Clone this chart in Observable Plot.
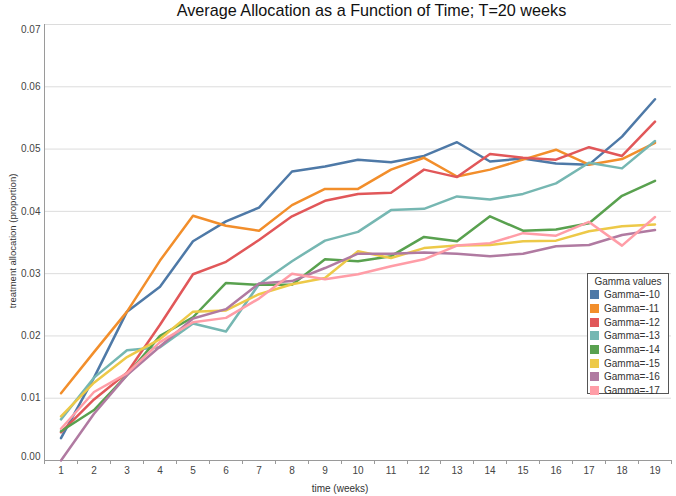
<!DOCTYPE html>
<html><head><meta charset="utf-8">
<script src="https://cdn.jsdelivr.net/npm/d3@7"></script>
<script src="https://cdn.jsdelivr.net/npm/@observablehq/plot@0.6"></script>
<style>
body{margin:0;background:#fff;font-family:"Liberation Sans",Arial,sans-serif;}
#wrap{position:relative;width:676px;height:496px;overflow:hidden;}
#title{position:absolute;left:0;width:743px;top:1px;text-align:center;font-size:16.2px;color:#111;white-space:nowrap;}
#ylab{position:absolute;left:12px;top:241px;font-size:9.5px;color:#333;white-space:nowrap;transform:translate(-50%,-50%) rotate(-90deg);}
#xlab{position:absolute;left:340px;top:483px;font-size:10px;color:#333;white-space:nowrap;transform:translateX(-50%);}
#legend{position:absolute;left:587px;top:273px;width:80px;height:119px;border:1.5px solid #555;background:#fff;font-size:10px;color:#333;}
#legend .t{text-align:center;margin-top:1px;height:13px;line-height:13px;}
#legend .r{height:13.7px;display:flex;align-items:center;}
#legend .s{width:9px;height:9px;margin-left:2px;margin-right:5px;}
#plot{position:absolute;left:0;top:0;}
</style></head><body>
<div id="wrap">
<div id="plot"></div>
<div id="title">Average Allocation as a Function of Time; T=20 weeks</div>
<div id="ylab">treatment allocation (proportion)</div>
<div id="xlab">time (weeks)</div>
<div id="legend"></div>
</div>
<script>
const weeks = [1,2,3,4,5,6,7,8,9,10,11,12,13,14,15,16,17,18,19];
const gammaNames = ["Gamma=-10","Gamma=-11","Gamma=-12","Gamma=-13","Gamma=-14","Gamma=-15","Gamma=-16","Gamma=-17"];
const colors = ["#4e79a7","#f28e2b","#e15759","#76b7b2","#59a14f","#edc948","#b07aa1","#ff9da7"];
const yTicks = [0,0.01,0.02,0.03,0.04,0.05,0.06,0.07];

const g10 = [0.0036,0.0133,0.0239,0.0279,0.0352,0.0384,0.0406,0.0464,0.0472,0.0483,0.0479,0.0489,0.0511,0.0480,0.0485,0.0477,0.0475,0.0520,0.0580];
const g11 = [0.0108,0.0174,0.0239,0.0321,0.0393,0.0377,0.0369,0.0410,0.0436,0.0436,0.0467,0.0486,0.0456,0.0467,0.0483,0.0499,0.0475,0.0484,0.0510];
const g12 = [0.0045,0.0098,0.0141,0.0218,0.0299,0.0319,0.0354,0.0392,0.0417,0.0428,0.0430,0.0467,0.0455,0.0492,0.0486,0.0483,0.0503,0.0489,0.0544];
const g13 = [0.0066,0.0133,0.0177,0.0182,0.0220,0.0207,0.0283,0.0320,0.0353,0.0367,0.0402,0.0404,0.0424,0.0419,0.0428,0.0445,0.0478,0.0469,0.0513];
const g14 = [0.0047,0.0081,0.0137,0.0200,0.0230,0.0285,0.0282,0.0282,0.0323,0.0320,0.0328,0.0359,0.0352,0.0392,0.0369,0.0371,0.0381,0.0425,0.0449];
const g15 = [0.0071,0.0125,0.0166,0.0195,0.0239,0.0241,0.0267,0.0283,0.0293,0.0336,0.0325,0.0341,0.0345,0.0346,0.0352,0.0353,0.0368,0.0376,0.0379];
const g16 = [0.0000,0.0075,0.0137,0.0183,0.0228,0.0243,0.0284,0.0288,0.0309,0.0332,0.0332,0.0334,0.0332,0.0328,0.0332,0.0344,0.0346,0.0362,0.0370];
const g17 = [0.0051,0.0110,0.0140,0.0190,0.0222,0.0229,0.0260,0.0300,0.0291,0.0299,0.0312,0.0323,0.0345,0.0349,0.0365,0.0361,0.0383,0.0345,0.0391];

const series = [g10,g11,g12,g13,g14,g15,g16,g17];
const data = [];
series.forEach((vals, i) => vals.forEach((v, j) => data.push({gamma: gammaNames[i], week: weeks[j], value: v})));
const bounds = [...weeks.map(w => w - 0.5), weeks[weeks.length-1] + 0.5];

const chart = Plot.plot({
  width: 676, height: 496,
  marginTop: 24, marginBottom: 36, marginLeft: 44, marginRight: 5,
  style: {fontFamily: '"Liberation Sans", Arial, sans-serif', background: "transparent"},
  x: {type: "linear", domain: [0.5, 19.5]},
  y: {domain: [0, 0.07]},
  color: {domain: gammaNames, range: colors},
  marks: [
    Plot.ruleY(yTicks.slice(1), {stroke: "#dcdcdc", strokeWidth: 1}),
    Plot.ruleY([0], {stroke: "#9a9a9a", strokeWidth: 1}),
    Plot.ruleX([0.5], {y1: 0, y2: 0.07, stroke: "#9a9a9a", strokeWidth: 1}),
    Plot.line(data, {x: "week", y: "value", z: "gamma", stroke: "gamma", strokeWidth: 2.5, curve: "linear"}),
    Plot.axisX(weeks, {tickSize: 0, tickPadding: 6, fontSize: 10, fill: "#444", label: null}),
    Plot.axisX(bounds, {tickSize: 4, tickFormat: () => "", stroke: "#9a9a9a", label: null}),
    Plot.axisY(yTicks.slice(1, 7), {tickSize: 0, tickPadding: 4, fontSize: 10, fill: "#444", tickFormat: d3.format(".2f"), label: null}),
    Plot.axisY([0.07], {tickSize: 0, tickPadding: 4, dy: 5, fontSize: 10, fill: "#444", tickFormat: d3.format(".2f"), label: null}),
    Plot.axisY([0], {tickSize: 0, tickPadding: 4, dy: -4, fontSize: 10, fill: "#444", tickFormat: d3.format(".2f"), label: null})
  ]
});
document.getElementById("plot").appendChild(chart);

const lg = document.getElementById("legend");
const t = document.createElement("div"); t.className = "t"; t.textContent = "Gamma values"; lg.appendChild(t);
gammaNames.forEach((n, i) => {
  const r = document.createElement("div"); r.className = "r";
  const s = document.createElement("div"); s.className = "s"; s.style.background = colors[i];
  const l = document.createElement("span"); l.textContent = n;
  r.appendChild(s); r.appendChild(l); lg.appendChild(r);
});
</script>
</body></html>
